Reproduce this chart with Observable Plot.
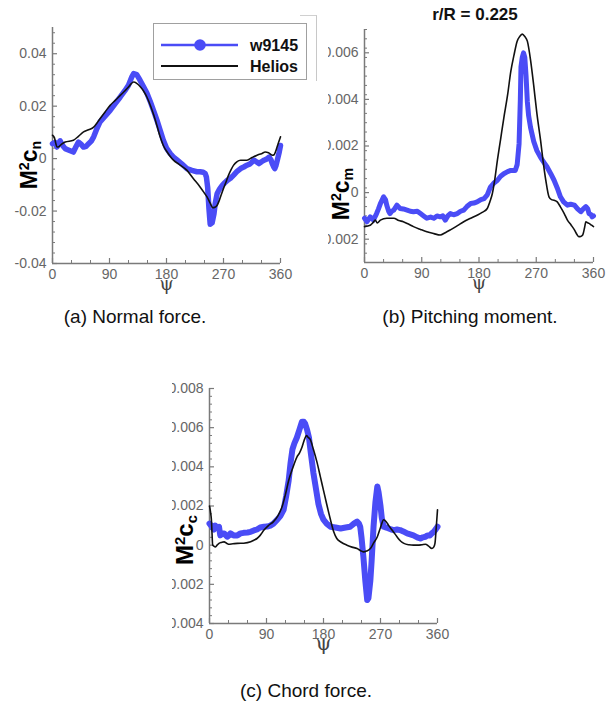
<!DOCTYPE html>
<html>
<head>
<meta charset="utf-8">
<script src="https://cdn.jsdelivr.net/npm/d3@7"></script>
<script src="https://cdn.jsdelivr.net/npm/@observablehq/plot@0.6"></script>
<style>
  body { margin: 0; background: #fff; font-family: "Liberation Sans", Arial, Helvetica, sans-serif; }
  #fig { position: relative; width: 612px; height: 713px; overflow: hidden; background: #fff; }
  .panel { position: absolute; }
  .panel svg { overflow: hidden; display: block; }
  .ylab { position: absolute; font-weight: bold; font-size: 23px; color: #000; white-space: nowrap;
          line-height: 1; transform: translate(-50%, -50%) rotate(-90deg); }
  .ylab .sup { font-size: 0.62em; position: relative; top: -0.55em; }
  .ylab .sub { font-size: 0.62em; position: relative; top: 0.3em; }
  .caption { position: absolute; font-size: 19px; color: #111; white-space: nowrap; transform: translateX(-50%); }
  .title { position: absolute; font-size: 17px; font-weight: bold; color: #111; white-space: nowrap; transform: translateX(-50%); }
  .legend { position: absolute; left: 153px; top: 23px; width: 154px; height: 57px; border: 1px solid #a0a0a0; box-sizing: border-box; background: #fff; }
  .outer { position: absolute; left: 300px; top: 15px; width: 16px; height: 65px; border-top: 1px solid #d0d0d0; border-right: 1px solid #c8c8c8; }
</style>
</head>
<body>
<div id="fig"></div>
<script>
// Legend entries
const seriesNames = ["w9145", "Helios"];

// Azimuth axis
const psiTicks = [0, 90, 180, 270, 360];
const psiMinor = [30, 60, 120, 150, 210, 240, 300, 330];

// (a) Normal force, M^2 c_n  — [psi, value]
const normalTicks = [-0.04, -0.02, 0, 0.02, 0.04];
const normalW9145 = [
  [0,0.0057],[4,0.0062],[7,0.0044],[12,0.0068],[16,0.0050],[20,0.0038],[24,0.0034],[28,0.0030],[33,0.0025],
  [37,0.0045],[41,0.0063],[45,0.0055],[49,0.0044],[53,0.0047],[57,0.0057],[61,0.0066],[65,0.0083],[70,0.0114],
  [75,0.0140],[83,0.0162],[91,0.0184],[99,0.0210],[107,0.0235],[114,0.0258],[120,0.0280],[125,0.0310],[128,0.0324],
  [133,0.0320],[138,0.0300],[144,0.0273],[149,0.0250],[154,0.0220],[160,0.0180],[165,0.0146],[170,0.0108],[175,0.0070],
  [180,0.0040],[186,0.0019],[191,0.0006],[197,-0.0006],[204,-0.0020],[212,-0.0038],[220,-0.0045],[228,-0.0050],
  [233,-0.0050],[238,-0.0052],[241,-0.0057],[243,-0.0070],[245,-0.0110],[247,-0.0190],[249,-0.0250],[252,-0.0245],
  [255,-0.0210],[257,-0.0170],[260,-0.0133],[264,-0.0115],[268,-0.0102],[272,-0.0092],[276,-0.0083],[281,-0.0075],
  [286,-0.0063],[291,-0.0050],[297,-0.0038],[302,-0.0032],[307,-0.0025],[312,-0.0020],[318,-0.0006],[322,-0.0012],
  [326,-0.0019],[330,-0.0012],[334,-0.0006],[338,-0.0002],[342,0.0006],[345,-0.0005],[347,-0.0019],[349,-0.0030],
  [351,-0.0038],[353,-0.0025],[355,-0.0006],[358,0.0025],[360,0.0050]
];
const normalHelios = [
  [0,0.0089],[3,0.0080],[5,0.0060],[7,0.0044],[10,0.0045],[12,0.0050],[20,0.0063],[33,0.0070],[41,0.0085],
  [49,0.0102],[57,0.0110],[65,0.0120],[70,0.0135],[75,0.0152],[83,0.0178],[91,0.0203],[99,0.0222],[107,0.0241],
  [114,0.0258],[120,0.0273],[124,0.0285],[128,0.0292],[133,0.0287],[139,0.0273],[144,0.0257],[149,0.0235],
  [155,0.0200],[160,0.0165],[165,0.0125],[170,0.0083],[175,0.0050],[181,0.0025],[186,0.0008],[191,-0.0006],
  [200,-0.0022],[212,-0.0044],[222,-0.0075],[233,-0.0108],[240,-0.0132],[244,-0.0146],[249,-0.0170],[253,-0.0187],
  [256,-0.0186],[260,-0.0178],[264,-0.0155],[268,-0.0127],[273,-0.0095],[278,-0.0063],[282,-0.0042],[286,-0.0025],
  [291,-0.0012],[297,-0.0006],[302,-0.0006],[307,-0.0006],[315,0.0004],[323,0.0013],[330,0.0019],[336,0.0025],
  [341,0.0022],[347,0.0013],[350,0.0015],[352,0.0025],[356,0.0055],[360,0.0083]
];

// (b) Pitching moment, M^2 c_m
const pitchTicks = [-0.002, 0, 0.002, 0.004, 0.006];
const pitchW9145 = [
  [0,-0.0011],[4,-0.00125],[9,-0.00104],[14,-0.00118],[19,-0.0009],[22,-0.0007],[25,-0.00047],[28,-0.0003],
  [30,-0.00018],[33,-0.0003],[35,-0.00054],[38,-0.0008],[40,-0.0009],[43,-0.0008],[46,-0.00075],[51,-0.00054],
  [56,-0.00068],[61,-0.0007],[67,-0.00075],[72,-0.0008],[77,-0.00082],[83,-0.0008],[88,-0.0009],[93,-0.001],
  [98,-0.0011],[104,-0.00105],[109,-0.0011],[114,-0.001],[119,-0.00104],[123,-0.001],[127,-0.00118],[131,-0.001],
  [135,-0.0009],[140,-0.00095],[146,-0.0009],[151,-0.0008],[156,-0.00075],[161,-0.0006],[167,-0.00047],
  [172,-0.00045],[177,-0.0004],[183,-0.0003],[188,-0.00026],[193,-0.0001],[198,0.00024],[203,0.0004],[209,0.00053],
  [214,0.0007],[219,0.00081],[225,0.0009],[230,0.00095],[234,0.00095],[237,0.00095],[240,0.0012],[243,0.0021],
  [245,0.0040],[246,0.0054],[248,0.0058],[250,0.0060],[252,0.0058],[254,0.0050],[256,0.0039],[258,0.0033],
  [261,0.0028],[266,0.0022],[271,0.0018],[277,0.0015],[282,0.0013],[287,0.0011],[293,0.0008],[298,0.00053],
  [303,0.0002],[308,-0.00018],[313,-0.0004],[319,-0.00054],[324,-0.0005],[330,-0.00054],[335,-0.0007],
  [340,-0.00082],[344,-0.0007],[348,-0.0006],[351,-0.0007],[353,-0.0009],[356,-0.00095],[358,-0.00104],[360,-0.001]
];
const pitchHelios = [
  [0,-0.00146],[9,-0.0014],[13,-0.0013],[17,-0.00118],[20,-0.0013],[25,-0.00118],[35,-0.0011],[46,-0.0011],
  [54,-0.0012],[61,-0.00125],[69,-0.00135],[77,-0.00146],[88,-0.00158],[98,-0.00168],[109,-0.00176],[119,-0.00182],
  [127,-0.00172],[135,-0.0016],[146,-0.00142],[156,-0.00125],[167,-0.0011],[177,-0.00097],[185,-0.00085],
  [193,-0.00068],[197,-0.0004],[201,-0.00004],[205,0.0006],[209,0.0014],[214,0.0023],[219,0.0032],[225,0.0042],
  [230,0.0052],[235,0.0059],[240,0.0065],[244,0.0067],[248,0.0068],[252,0.0067],[256,0.0065],[261,0.0057],
  [266,0.0046],[271,0.0034],[277,0.0022],[281,0.0013],[285,0.00053],[290,-0.00018],[294,-0.0003],[298,-0.00033],
  [303,-0.0004],[308,-0.00061],[314,-0.0009],[319,-0.00118],[325,-0.0014],[330,-0.0016],[334,-0.0018],
  [337,-0.00189],[340,-0.00188],[343,-0.00182],[346,-0.0015],[348,-0.00125],[351,-0.0013],[353,-0.00132],
  [357,-0.0014],[360,-0.00146]
];

// (c) Chord force, M^2 c_c
const chordTicks = [-0.004, -0.002, 0, 0.002, 0.004, 0.006, 0.008];
const chordW9145 = [
  [0,0.0011],[4,0.00094],[7,0.0008],[9,0.001],[12,0.0009],[15,0.00094],[17,0.0005],[20,0.0006],[23,0.0006],
  [26,0.0005],[28,0.00043],[31,0.0005],[33,0.0006],[38,0.0005],[44,0.0005],[49,0.0006],[54,0.00063],[60,0.00065],
  [65,0.00068],[70,0.00075],[75,0.0008],[80,0.0009],[86,0.00094],[91,0.00095],[96,0.001],[101,0.0011],[107,0.0013],
  [112,0.0015],[117,0.0018],[121,0.0025],[125,0.0033],[128,0.0042],[131,0.0049],[134,0.0052],[138,0.0055],
  [142,0.0059],[146,0.0063],[149,0.0063],[151,0.0062],[154,0.0059],[157,0.0055],[160,0.0047],[164,0.0037],
  [168,0.0029],[172,0.0021],[176,0.0016],[180,0.0013],[185,0.0011],[191,0.00094],[199,0.0009],[207,0.00085],
  [215,0.0009],[222,0.00094],[228,0.0011],[233,0.0012],[236,0.0011],[238,0.00094],[240,0.0004],[243,-0.0006],
  [246,-0.0018],[249,-0.0028],[251,-0.0027],[254,-0.0018],[256,-0.0008],[259,0.00094],[262,0.0022],[265,0.0030],
  [267,0.0027],[270,0.0020],[272,0.0014],[275,0.00094],[279,0.0009],[283,0.00085],[287,0.0008],[291,0.00077],
  [296,0.0008],[301,0.00077],[306,0.0007],[312,0.0006],[317,0.00055],[322,0.0005],[328,0.0004],[333,0.00034],
  [337,0.0004],[341,0.00043],[344,0.0005],[348,0.0005],[351,0.0006],[354,0.00068],[357,0.0008],[360,0.00094]
];
const chordHelios = [
  [0,0.0020],[2,0.0016],[3,0.0013],[4,0.0006],[5,0],[7,-0.00005],[9,-0.00009],[12,0],[15,0.00009],[19,0.00014],
  [23,0.00017],[27,0.0001],[30,0.00005],[37,0.00007],[44,0.00009],[54,0.0001],[65,0.00017],[70,0.00025],
  [75,0.00034],[80,0.0005],[86,0.00077],[93,0.001],[101,0.0012],[108,0.0015],[115,0.0020],[120,0.0026],
  [125,0.0033],[131,0.0039],[138,0.0045],[142,0.0047],[146,0.0050],[150,0.0054],[153,0.0056],[156,0.0055],
  [159,0.0054],[164,0.0049],[170,0.0042],[175,0.0035],[180,0.0028],[185,0.0021],[191,0.0013],[196,0.0007],
  [201,0.00034],[208,0.00015],[217,0],[225,-0.0001],[233,-0.00017],[238,-0.00027],[243,-0.00034],[248,-0.0003],
  [254,-0.00017],[259,0.0001],[265,0.00043],[270,0.0009],[275,0.0013],[279,0.0012],[283,0.001],[290,0.0007],
  [296,0.00043],[302,0.0002],[307,0.00009],[315,0.00002],[322,0],[328,0],[335,0.00002],[341,0.00005],
  [346,-0.00005],[351,-0.00017],[354,-0.0001],[356,0.00009],[358,0.0009],[360,0.0018]
];

const BLUE = "#4a4cf6";
const BLACK = "#111";
const AXIS = "#7a7a7a";
const LABEL = "#666";
const FONT = "'Liberation Sans', Arial, Helvetica, sans-serif";

function panel({w9145, helios, yDomain, yTicks, yMinorStep, width, height, mL, mR, mT, mB, blueWidth, psiSize}) {
  const fw = width - mL - mR, fh = height - mT - mB;
  const yMinor = d3.range(yDomain[0], yDomain[1] + yMinorStep / 2, yMinorStep)
    .filter(v => !yTicks.some(t => Math.abs(t - v) < yMinorStep / 10));
  return Plot.plot({
    width, height,
    marginLeft: mL, marginRight: mR, marginTop: mT, marginBottom: mB,
    style: {fontFamily: FONT, background: "white", overflow: "hidden"},
    x: {domain: [0, 360]},
    y: {domain: yDomain},
    marks: [
      // axis lines and inward ticks
      Plot.ruleX([0], {stroke: AXIS, strokeWidth: 1.5}),
      Plot.ruleY([yDomain[0]], {stroke: AXIS, strokeWidth: 1.5}),
      Plot.tickY(yTicks, {y: d => d, insetRight: fw - 5, stroke: AXIS, strokeWidth: 1.2}),
      Plot.tickY(yMinor, {y: d => d, insetRight: fw - 3, stroke: AXIS, strokeWidth: 1}),
      Plot.tickX(psiTicks, {x: d => d, insetTop: fh - 5, stroke: AXIS, strokeWidth: 1.2}),
      Plot.tickX(psiMinor, {x: d => d, insetTop: fh - 3, stroke: AXIS, strokeWidth: 1}),
      Plot.axisY({ticks: yTicks, tickSize: 0, tickPadding: 6, tickFormat: d => String(d),
                  fontSize: 14, fill: LABEL, label: null}),
      Plot.axisX({ticks: psiTicks, tickSize: 0, tickPadding: 6, tickFormat: d => String(d),
                  fontSize: 14, fill: LABEL, label: null}),
      Plot.text(["ψ"], {text: d => d, frameAnchor: "bottom", dy: 26, fontSize: psiSize,
                        fontFamily: "'DejaVu Serif', 'Liberation Serif', serif", fill: "#444"}),
      // data
      Plot.line(w9145, {x: d => d[0], y: d => d[1], stroke: BLUE, strokeWidth: blueWidth,
                        strokeLinejoin: "round", strokeLinecap: "round"}),
      Plot.line(helios, {x: d => d[0], y: d => d[1], stroke: BLACK, strokeWidth: 1.6, curve: "monotone-x"})
    ]
  });
}

const fig = document.getElementById("fig");

function place(node, left, top) {
  const wrap = document.createElement("div");
  wrap.className = "panel";
  wrap.style.left = left + "px";
  wrap.style.top = top + "px";
  wrap.appendChild(node);
  fig.appendChild(wrap);
}

function addHTML(html) {
  fig.insertAdjacentHTML("beforeend", html);
}

// (a) normal force
place(panel({w9145: normalW9145, helios: normalHelios, yDomain: [-0.04, 0.05], yTicks: normalTicks,
             yMinorStep: 0.004, width: 300, height: 300, mL: 52, mR: 20, mT: 27, mB: 37,
             blueWidth: 5.5, psiSize: 18}), 0, 0);
// (b) pitching moment
place(panel({w9145: pitchW9145, helios: pitchHelios, yDomain: [-0.003, 0.007], yTicks: pitchTicks,
             yMinorStep: 0.0004, width: 284, height: 300, mL: 36, mR: 19, mT: 29, mB: 38,
             blueWidth: 5, psiSize: 18}), 328, 0);
// (c) chord force
place(panel({w9145: chordW9145, helios: chordHelios, yDomain: [-0.004, 0.008], yTicks: chordTicks,
             yMinorStep: 0.0004, width: 286, height: 290, mL: 37, mR: 21, mT: 18, mB: 37,
             blueWidth: 6, psiSize: 20}), 172, 370);

// axis titles
addHTML(`<div class="ylab" style="left:29px;top:165px">M<span class="sup">2</span>c<span class="sub">n</span></div>`);
addHTML(`<div class="ylab" style="left:341px;top:194px">M<span class="sup">2</span>c<span class="sub">m</span></div>`);
addHTML(`<div class="ylab" style="left:185px;top:540px;font-size:24px">M<span class="sup">2</span>c<span class="sub">c</span></div>`);

// title over (b)
addHTML(`<div class="title" style="left:475px;top:5px">r/R = 0.225</div>`);

// legend
addHTML(`<div class="outer"></div>`);
const legend = document.createElement("div");
legend.className = "legend";
legend.innerHTML = `
<svg width="152" height="55" style="display:block;font-family:${FONT}">
  <line x1="7" x2="84" y1="21" y2="21" stroke="${BLUE}" stroke-width="2.5"/>
  <circle cx="46" cy="21" r="5.8" fill="${BLUE}"/>
  <text x="96" y="21" dy="0.35em" font-size="16" font-weight="bold" fill="#111">${seriesNames[0]}</text>
  <line x1="7" x2="84" y1="42" y2="42" stroke="${BLACK}" stroke-width="2"/>
  <text x="96" y="42" dy="0.35em" font-size="16" font-weight="bold" fill="#111">${seriesNames[1]}</text>
</svg>`;
fig.appendChild(legend);

// captions
addHTML(`<div class="caption" style="left:135px;top:306px">(a) Normal force.</div>`);
addHTML(`<div class="caption" style="left:470px;top:306px">(b) Pitching moment.</div>`);
addHTML(`<div class="caption" style="left:306px;top:680px">(c) Chord force.</div>`);
</script>
</body>
</html>
